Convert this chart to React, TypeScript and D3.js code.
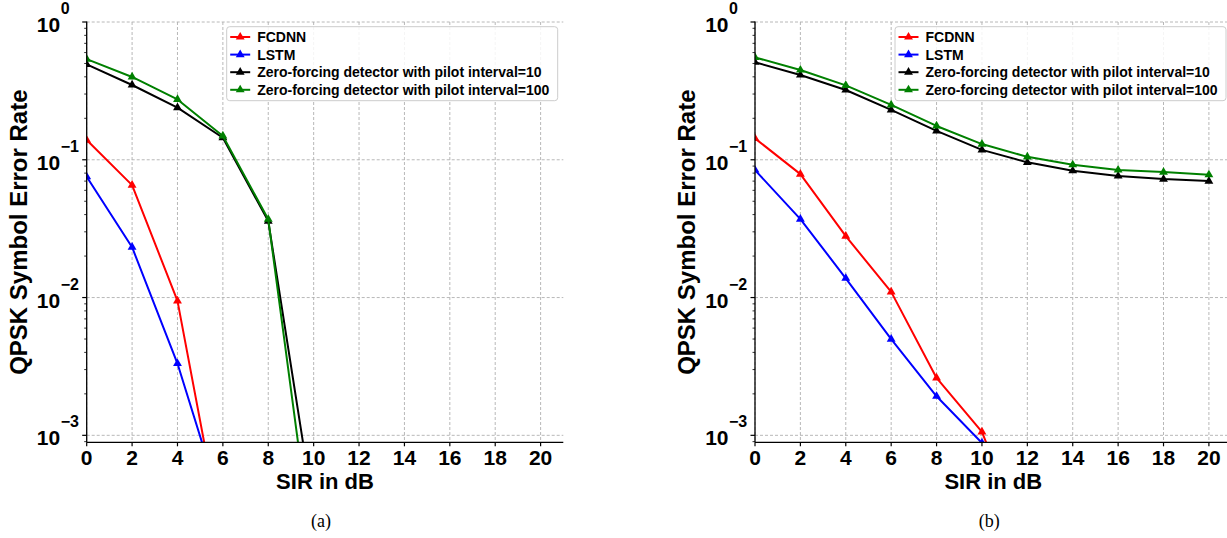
import React from "react";
import * as d3 from "d3";

// SIR in dB (x values)
const sirA = [0, 2, 4, 6, 8, 10];
const sirB = [0, 2, 4, 6, 8, 10, 12, 14, 16, 18, 20];

// panel (a)
const fcdnnA = [0.139, 0.0655, 0.00946, 1.7e-4];
const lstmA = [0.0753, 0.0232, 0.00332, 2.9e-4];
const zf10A = [0.493, 0.349, 0.239, 0.1445, 0.0359, 2.86e-4];
const zf100A = [0.538, 0.399, 0.274, 0.149, 0.037, 1.25e-4];

// panel (b)
const fcdnnB = [0.143, 0.0787, 0.0279, 0.011, 0.00261, 0.00106, 1.55e-4];
const lstmB = [0.0842, 0.0371, 0.0138, 0.00499, 0.00192, 8.8e-4];
const zf10B = [0.51, 0.412, 0.321, 0.23, 0.162, 0.118, 0.0958, 0.0832, 0.0762, 0.0724, 0.07];
const zf100B = [0.554, 0.448, 0.347, 0.25, 0.176, 0.13, 0.105, 0.092, 0.0842, 0.0814, 0.0778];

const legendNames = [
	"FCDNN",
	"LSTM",
	"Zero-forcing detector with pilot interval=10",
	"Zero-forcing detector with pilot interval=100",
];
const colors = ["#ff0000", "#0000ff", "#000000", "#008000"];

const xTicks = [0, 2, 4, 6, 8, 10, 12, 14, 16, 18, 20];
const yTicks = [1, 0.1, 0.01, 0.001];
const yTickExp = ["0", "\u22121", "\u22122", "\u22123"];
const xDomain = [0, 21];
const yDomain = [8.9e-4, 1];

const FONT = "'Liberation Sans', Arial, sans-serif";

function Panel({ id, left, caption, sir, series }) {
	const top = 22;
	const width = 476.6;
	const height = 420.3;

	const x = d3.scaleLinear().domain(xDomain).range([0, width]);
	const y = d3.scaleLog().domain(yDomain).range([height, 0]);

	const line = d3.line()
		.x((d) => x(d[0]))
		.y((d) => y(d[1]));

	const tri = d3.symbol().type(d3.symbolTriangle).size(34)();

	// minor log ticks 2..9 per decade
	const minor = [];
	for (let e = -4; e < 0; e++) {
		for (let m = 2; m < 10; m++) {
			const v = m * Math.pow(10, e);
			if (v >= yDomain[0] && v <= yDomain[1]) minor.push(v);
		}
	}

	return (
		<g>
			<defs>
				<clipPath id={"clip_" + id}>
					<rect x={0} y={0} width={width} height={height} />
				</clipPath>
			</defs>
			<g transform={"translate(" + left + "," + top + ")"}>
				{/* grid */}
				{xTicks.map((t) => (
					<line key={"gx" + t} x1={x(t)} x2={x(t)} y1={0} y2={height}
						stroke="#b0b0b0" strokeWidth={0.9} strokeDasharray="3,2" />
				))}
				{yTicks.map((t) => (
					<line key={"gy" + t} x1={0} x2={width} y1={y(t)} y2={y(t)}
						stroke="#b0b0b0" strokeWidth={0.9} strokeDasharray="3,2" />
				))}

				{/* series */}
				<g clipPath={"url(#clip_" + id + ")"}>
					{series.map((s, i) => {
						const pts = s.map((v, k) => [sir[k], v]);
						return (
							<g key={"s" + i}>
								<path d={line(pts)} fill="none" stroke={colors[i]} strokeWidth={2}
									strokeLinejoin="round" />
								{pts.map((p, k) => (
									<path key={k} d={tri} fill={colors[i]}
										transform={"translate(" + x(p[0]) + "," + y(p[1]) + ")"} />
								))}
							</g>
						);
					})}
				</g>

				{/* spines */}
				<line x1={0} x2={0} y1={-0.5} y2={height} stroke="#000" strokeWidth={1.3} />
				<line x1={0} x2={width} y1={height} y2={height} stroke="#000" strokeWidth={1.3} />

				{/* x ticks */}
				{xTicks.map((t) => (
					<g key={"xt" + t} transform={"translate(" + x(t) + "," + height + ")"}>
						<line y1={0} y2={4} stroke="#000" strokeWidth={1.2} />
						<text y={23} textAnchor="middle" fontFamily={FONT} fontWeight="bold" fontSize={21}>{t}</text>
					</g>
				))}

				{/* y ticks */}
				{minor.map((t) => (
					<line key={"mt" + t} x1={-2.5} x2={0} y1={y(t)} y2={y(t)} stroke="#000" strokeWidth={0.8} />
				))}
				{yTicks.map((t, i) => (
					<g key={"yt" + t} transform={"translate(0," + y(t) + ")"}>
						<line x1={-4.5} x2={0} stroke="#000" strokeWidth={1.2} />
						<text x={-26.5} y={10} textAnchor="end" fontFamily={FONT} fontWeight="bold" fontSize={21}>10</text>
						<text x={-26} y={-8} textAnchor="start" fontFamily={FONT} fontWeight="bold" fontSize={16}>{yTickExp[i]}</text>
					</g>
				))}

				{/* axis labels */}
				<text x={width / 2} y={height + 47} textAnchor="middle" fontFamily={FONT} fontWeight="bold" fontSize={22}>SIR in dB</text>
				<text transform={"translate(" + (27 - 86.7) + "," + height / 2 + ") rotate(-90)"}
					textAnchor="middle" fontFamily={FONT} fontWeight="bold" fontSize={24}>QPSK Symbol Error Rate</text>

				{/* legend */}
				<g transform="translate(140,4.7)">
					<rect x={0} y={0} width={331} height={74} rx={3} fill="#fff" fillOpacity={0.85}
						stroke="#cccccc" strokeWidth={1} />
					{legendNames.map((n, i) => (
						<g key={"lg" + i} transform={"translate(0," + (10.3 + i * 17.6) + ")"}>
							<line x1={3.5} x2={23.5} stroke={colors[i]} strokeWidth={2} />
							<path d={tri} fill={colors[i]} transform="translate(13.5,0)" />
							<text x={30.5} y={5} fontFamily={FONT} fontWeight="bold" fontSize={14}>{n}</text>
						</g>
					))}
				</g>

				<text x={width / 2 - 4} y={505} textAnchor="middle" fontFamily="'Liberation Serif', 'Times New Roman', serif"
					fontSize={18}>{caption}</text>
			</g>
		</g>
	);
}

export default function App() {
	return (
		<svg width={1227} height={538} style={{ position: "absolute", left: 0, top: 0, background: "#fff" }}>
			<rect width={1227} height={538} fill="#fff" />
			<Panel id="a" left={86.7} caption="(a)" sir={sirA} series={[fcdnnA, lstmA, zf10A, zf100A]} />
			<Panel id="b" left={755} caption="(b)" sir={sirB} series={[fcdnnB, lstmB, zf10B, zf100B]} />
		</svg>
	);
}
